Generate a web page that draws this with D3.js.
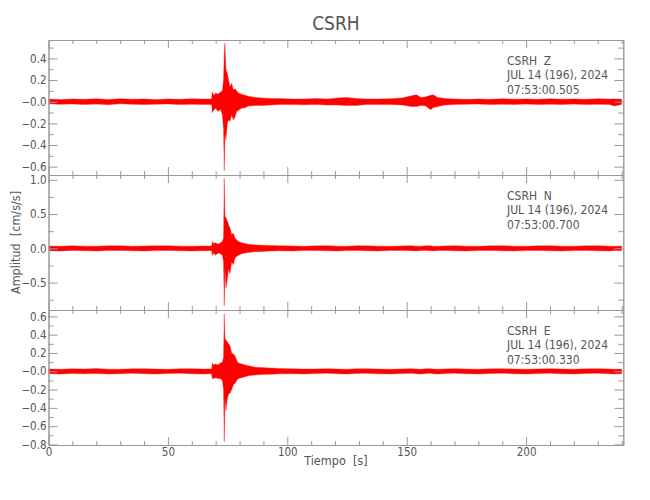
<!DOCTYPE html>
<html>
<head>
<meta charset="utf-8">
<script src="https://cdn.jsdelivr.net/npm/d3@7"></script>
<style>
  body { margin: 0; background: #fff; }
  text { font-family: "DejaVu Sans Condensed", "DejaVu Sans", sans-serif; font-stretch: condensed; fill: #555; }
</style>
</head>
<body>
<div id="chart"></div>
<script>
// time grid (s) shared by the three components
var times = [0, 5, 10, 15, 20, 25, 30, 35, 40, 45, 50, 55, 60, 65, 68.3, 68.6, 69.2, 70, 71, 72,
  72.8, 73.3, 73.6, 73.9, 74.3, 74.9, 75.4, 76.0, 76.7, 77.4, 78.1, 78.8, 79.5, 80.9, 82.3, 83.7, 86.5, 89.3, 93, 97,
  102, 107, 112, 117, 121, 125, 129, 133, 138, 143, 148, 152, 154, 156, 158, 160, 161, 163, 166, 170,
  175, 180, 185, 190, 195, 200, 205, 210, 215, 220, 225, 230, 235, 237, 240];

// Z component, upper / lower envelope (cm/s/s)
var zUpper = [0.024, 0.02, 0.026, 0.022, 0.027, 0.02, 0.028, 0.023, 0.026, 0.02, 0.026, 0.022, 0.027, 0.024, 0.025, 0.09, 0.06, 0.08, 0.07, 0.09,
  0.1, 0.2, 0.45, 0.54, 0.3, 0.26, 0.2, 0.14, 0.17, 0.11, 0.12, 0.1, 0.08, 0.07, 0.06, 0.05, 0.04, 0.035, 0.03, 0.03,
  0.026, 0.025, 0.03, 0.026, 0.035, 0.04, 0.03, 0.025, 0.026, 0.028, 0.035, 0.055, 0.065, 0.04, 0.045, 0.06, 0.065, 0.04, 0.03, 0.025,
  0.022, 0.026, 0.022, 0.027, 0.023, 0.026, 0.022, 0.027, 0.023, 0.026, 0.022, 0.027, 0.024, 0.026, 0.024];
var zLower = [-0.02, -0.024, -0.021, -0.026, -0.022, -0.027, -0.02, -0.024, -0.026, -0.023, -0.021, -0.026, -0.024, -0.026, -0.025, -0.1, -0.08, -0.06, -0.09, -0.07,
  -0.12, -0.25, -0.64, -0.3, -0.35, -0.2, -0.17, -0.18, -0.12, -0.17, -0.14, -0.09, -0.08, -0.06, -0.055, -0.04, -0.035, -0.035, -0.03, -0.026,
  -0.026, -0.028, -0.026, -0.03, -0.03, -0.035, -0.035, -0.026, -0.025, -0.026, -0.03, -0.045, -0.045, -0.035, -0.04, -0.075, -0.055, -0.045, -0.03, -0.025,
  -0.024, -0.022, -0.026, -0.023, -0.026, -0.022, -0.026, -0.023, -0.026, -0.022, -0.026, -0.024, -0.026, -0.04, -0.025];

// N component
var nUpper = [0.035, 0.03, 0.037, 0.032, 0.03, 0.036, 0.038, 0.03, 0.033, 0.036, 0.038, 0.032, 0.03, 0.035, 0.035, 0.1, 0.07, 0.08, 0.06, 0.08,
  0.1, 0.15, 1.02, 0.46, 0.45, 0.4, 0.34, 0.3, 0.2, 0.22, 0.15, 0.12, 0.1, 0.08, 0.07, 0.06, 0.05, 0.045, 0.04, 0.036,
  0.035, 0.03, 0.036, 0.038, 0.032, 0.03, 0.036, 0.038, 0.032, 0.03, 0.035, 0.038, 0.032, 0.03, 0.036, 0.038, 0.032, 0.03, 0.035, 0.038,
  0.032, 0.03, 0.036, 0.038, 0.032, 0.03, 0.036, 0.038, 0.032, 0.03, 0.036, 0.038, 0.032, 0.03, 0.035];
var nLower = [-0.035, -0.038, -0.03, -0.034, -0.038, -0.032, -0.03, -0.036, -0.038, -0.033, -0.03, -0.036, -0.038, -0.034, -0.035, -0.1, -0.07, -0.1, -0.07, -0.08,
  -0.1, -0.2, -0.84, -0.3, -0.58, -0.45, -0.3, -0.37, -0.2, -0.24, -0.14, -0.12, -0.1, -0.08, -0.07, -0.06, -0.05, -0.045, -0.04, -0.036,
  -0.038, -0.033, -0.03, -0.036, -0.038, -0.032, -0.03, -0.036, -0.038, -0.033, -0.03, -0.036, -0.038, -0.032, -0.03, -0.036, -0.038, -0.033, -0.03, -0.036,
  -0.038, -0.032, -0.03, -0.036, -0.038, -0.033, -0.03, -0.036, -0.038, -0.032, -0.03, -0.036, -0.038, -0.033, -0.035];

// E component
var eUpper = [0.026, 0.022, 0.028, 0.024, 0.03, 0.023, 0.022, 0.027, 0.029, 0.024, 0.022, 0.027, 0.029, 0.025, 0.026, 0.09, 0.07, 0.08, 0.07, 0.09,
  0.1, 0.15, 0.63, 0.36, 0.34, 0.32, 0.3, 0.28, 0.2, 0.19, 0.17, 0.12, 0.09, 0.08, 0.07, 0.06, 0.045, 0.04, 0.035, 0.03,
  0.028, 0.024, 0.026, 0.029, 0.024, 0.022, 0.027, 0.029, 0.024, 0.022, 0.026, 0.029, 0.024, 0.022, 0.027, 0.029, 0.024, 0.022, 0.026, 0.029,
  0.024, 0.022, 0.027, 0.029, 0.024, 0.022, 0.026, 0.029, 0.024, 0.022, 0.027, 0.029, 0.024, 0.022, 0.026];
var eLower = [-0.026, -0.029, -0.023, -0.027, -0.025, -0.029, -0.026, -0.022, -0.027, -0.029, -0.024, -0.022, -0.027, -0.029, -0.026, -0.08, -0.08, -0.07, -0.08, -0.08,
  -0.1, -0.2, -0.77, -0.3, -0.43, -0.3, -0.25, -0.24, -0.2, -0.15, -0.13, -0.1, -0.08, -0.07, -0.06, -0.05, -0.04, -0.035, -0.032, -0.028,
  -0.026, -0.029, -0.024, -0.022, -0.027, -0.029, -0.024, -0.022, -0.027, -0.029, -0.024, -0.022, -0.027, -0.029, -0.024, -0.022, -0.027, -0.029, -0.024, -0.022,
  -0.027, -0.029, -0.024, -0.022, -0.027, -0.029, -0.024, -0.022, -0.027, -0.029, -0.024, -0.022, -0.027, -0.029, -0.026];

// axes
var xDomain = [0, 240.7];
var xMajor = [0, 50, 100, 150, 200];
var xMinor = [10, 20, 30, 40, 60, 70, 80, 90, 110, 120, 130, 140, 160, 170, 180, 190, 210, 220, 230, 240];

var zDomain = [-0.677, 0.57];
var zTicks = [-0.6, -0.4, -0.2, 0, 0.2, 0.4];
var zLabels = ["\u22120.6", "\u22120.4", "\u22120.2", "\u22120.0", "0.2", "0.4"];
var zMinor = [-0.5, -0.3, -0.1, 0.1, 0.3, 0.5];

var nDomain = [-0.90, 1.07];
var nTicks = [-0.5, 0, 0.5, 1.0];
var nLabels = ["\u22120.5", "0.0", "0.5", "1.0"];
var nMinor = [-0.75, -0.25, 0.25, 0.75];

var eDomain = [-0.806, 0.67];
var eTicks = [-0.8, -0.6, -0.4, -0.2, 0, 0.2, 0.4, 0.6];
var eLabels = ["\u22120.8", "\u22120.6", "\u22120.4", "\u22120.2", "\u22120.0", "0.2", "0.4", "0.6"];
var eMinor = [-0.7, -0.5, -0.3, -0.1, 0.1, 0.3, 0.5];

var stationLines = [
  ["CSRH  Z", "JUL 14 (196), 2024", "07:53:00.505"],
  ["CSRH  N", "JUL 14 (196), 2024", "07:53:00.700"],
  ["CSRH  E", "JUL 14 (196), 2024", "07:53:00.330"]
];

var panels = [
  { upper: zUpper, lower: zLower, domain: zDomain, ticks: zTicks, labels: zLabels, minor: zMinor },
  { upper: nUpper, lower: nLower, domain: nDomain, ticks: nTicks, labels: nLabels, minor: nMinor },
  { upper: eUpper, lower: eLower, domain: eDomain, ticks: eTicks, labels: eLabels, minor: eMinor }
];

var width = 650, height = 500;
var left = 48.5, right = 623.3, top0 = 40, panelH = 135;
var axisColor = '#999';

var svg = d3.select('#chart').append('svg')
    .attr('width', width).attr('height', height);

var x = d3.scaleLinear().domain(xDomain).range([left, right]);

svg.append('text')
    .attr('x', (left + right) / 2).attr('y', 30)
    .attr('text-anchor', 'middle')
    .style('font-size', '19px')
    .text('CSRH');

function styleAxis(g) {
    g.select('.domain').attr('stroke', axisColor);
    g.selectAll('.tick line').attr('stroke', axisColor);
    g.selectAll('.tick text').style('font-size', '11.5px').attr('fill', '#555');
}

panels.forEach(function(p, k) {
    var top = top0 + k * panelH;
    var bottom = top + panelH;
    var y = d3.scaleLinear().domain(p.domain).range([bottom, top]);
    var last = k === panels.length - 1;

    var clipId = 'clip' + k;
    svg.append('clipPath').attr('id', clipId)
        .append('rect').attr('x', left).attr('y', top)
        .attr('width', right - left).attr('height', panelH);

    var area = d3.area()
        .x(function(d, i) { return x(times[i]); })
        .y0(function(d, i) { return y(p.lower[i]); })
        .y1(function(d, i) { return y(p.upper[i]); });

    svg.append('path')
        .datum(times)
        .attr('clip-path', 'url(#' + clipId + ')')
        .attr('fill', '#ff0000')
        .attr('stroke', '#ff2020')
        .attr('stroke-opacity', 0.5)
        .attr('stroke-width', 0.8)
        .attr('d', area);

    // x ticks, bottom and top
    svg.append('g').attr('transform', 'translate(0,' + bottom + ')')
        .call(d3.axisBottom(x).tickValues(xMajor).tickSize(-8).tickSizeOuter(0).tickPadding(3)
            .tickFormat(last ? d3.format('d') : ''))
        .call(styleAxis);
    svg.append('g').attr('transform', 'translate(0,' + bottom + ')')
        .call(d3.axisBottom(x).tickValues(xMinor).tickSize(-4).tickSizeOuter(0).tickFormat(''))
        .call(styleAxis);
    svg.append('g').attr('transform', 'translate(0,' + top + ')')
        .call(d3.axisTop(x).tickValues(xMajor).tickSize(-8).tickSizeOuter(0).tickFormat(''))
        .call(styleAxis);
    svg.append('g').attr('transform', 'translate(0,' + top + ')')
        .call(d3.axisTop(x).tickValues(xMinor).tickSize(-4).tickSizeOuter(0).tickFormat(''))
        .call(styleAxis);

    // y ticks, left and right
    svg.append('g').attr('transform', 'translate(' + left + ',0)')
        .call(d3.axisLeft(y).tickValues(p.ticks).tickSize(-9).tickSizeOuter(0).tickPadding(2)
            .tickFormat(function(d, i) { return p.labels[i]; }))
        .call(styleAxis);
    svg.append('g').attr('transform', 'translate(' + left + ',0)')
        .call(d3.axisLeft(y).tickValues(p.minor).tickSize(-5).tickSizeOuter(0).tickFormat(''))
        .call(styleAxis);
    svg.append('g').attr('transform', 'translate(' + right + ',0)')
        .call(d3.axisRight(y).tickValues(p.ticks).tickSize(-9).tickSizeOuter(0).tickFormat(''))
        .call(styleAxis);
    svg.append('g').attr('transform', 'translate(' + right + ',0)')
        .call(d3.axisRight(y).tickValues(p.minor).tickSize(-5).tickSizeOuter(0).tickFormat(''))
        .call(styleAxis);

    // station / date block
    svg.append('g').selectAll('text')
        .data(stationLines[k])
        .enter().append('text')
        .attr('x', 507)
        .attr('y', function(d, i) { return top + 25 + i * 14.3; })
        .style('font-size', '12px')
        .style('white-space', 'pre')
        .text(function(d) { return d; });
});

svg.append('text')
    .attr('x', (left + right) / 2).attr('y', 465)
    .attr('text-anchor', 'middle')
    .style('font-size', '12.5px')
    .style('white-space', 'pre')
    .text('Tiempo  [s]');

svg.append('text')
    .attr('transform', 'translate(20,' + (top0 + 1.5 * panelH) + ') rotate(-90)')
    .attr('text-anchor', 'middle')
    .style('font-size', '12.5px')
    .style('white-space', 'pre')
    .text('Amplitud  [cm/s/s]');
</script>
</body>
</html>
